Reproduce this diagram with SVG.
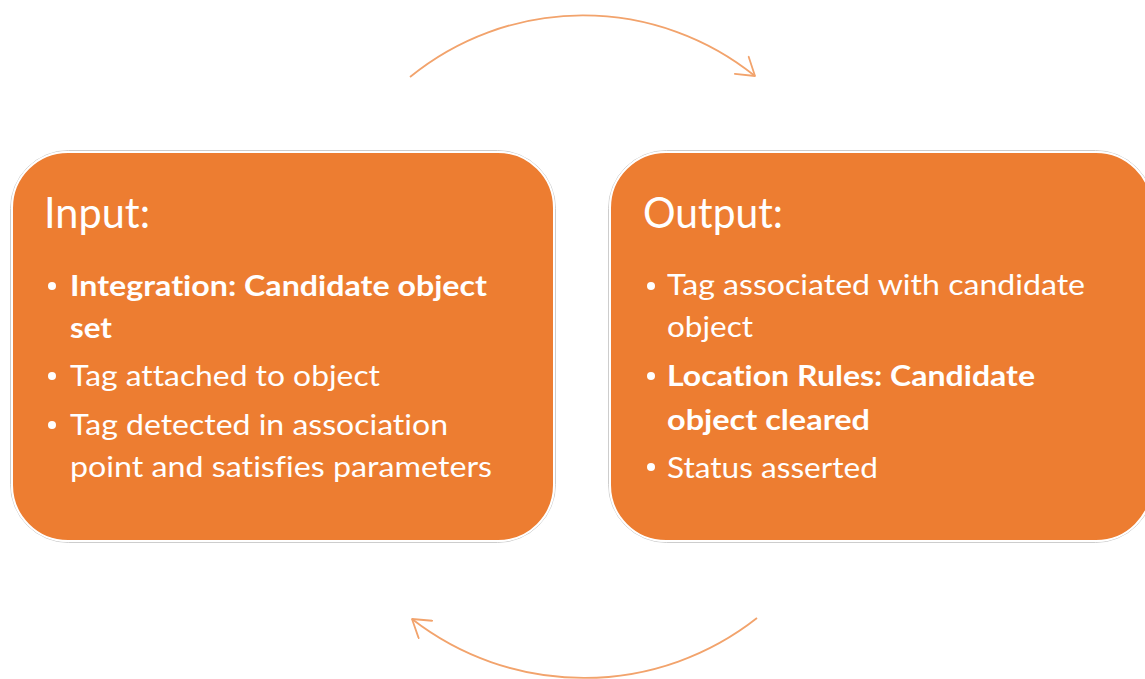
<svg xmlns="http://www.w3.org/2000/svg" width="1145" height="679" viewBox="0 0 1145 679">
  <defs>
    <marker id="chev" viewBox="0 0 24 24" refX="20" refY="12" markerWidth="24" markerHeight="24" markerUnits="userSpaceOnUse" orient="auto">
      <path d="M3,1 L20,12 L3,23" fill="none" stroke="#F2A36C" stroke-width="1.8" stroke-linecap="round" stroke-linejoin="round"/>
    </marker>
  </defs>
  <style>
    .halo { fill: none; stroke: #cdcdcd; stroke-width: 1; }
    .box { fill: #ED7D31; stroke: #ffffff; stroke-width: 2; }
    .title { font-family: Lato, "Open Sans", sans-serif; font-size: 43px; fill: #ffffff; font-variant-ligatures: none; }
    .item { font-family: Lato, "Open Sans", sans-serif; font-size: 29px; fill: #ffffff; font-variant-ligatures: none; }
    .bold { font-weight: bold; }
    .dot { fill: #ffffff; }
    .flow { fill: none; stroke: #F2A36C; stroke-width: 1.8; }
  </style>

  <rect width="1145" height="679" fill="#ffffff"/>

  <!-- cycle arcs -->
  <g id="connectors">
    <path class="flow" d="M410,77 A274,274 0 0 1 755,76" marker-end="url(#chev)"/>
    <path class="flow" d="M757,618 A280,280 0 0 1 412,619" marker-end="url(#chev)"/>
  </g>

  <!-- input card -->
  <g id="input">
    <rect class="halo" x="10.5" y="150.5" width="545" height="392" rx="58"/>
    <rect class="box" x="12" y="152" width="542" height="389" rx="56"/>
    <text class="title" x="44" y="228" textLength="106" lengthAdjust="spacingAndGlyphs">Input:</text>
    <circle class="dot" cx="52" cy="286" r="4"/>
    <text class="item bold" x="70" y="296" textLength="417" lengthAdjust="spacingAndGlyphs">Integration: Candidate object</text>
    <text class="item bold" x="70" y="338" textLength="42" lengthAdjust="spacingAndGlyphs">set</text>
    <circle class="dot" cx="52" cy="376" r="4"/>
    <text class="item" x="70" y="386" textLength="310" lengthAdjust="spacingAndGlyphs">Tag attached to object</text>
    <circle class="dot" cx="52" cy="425" r="4"/>
    <text class="item" x="70" y="435" textLength="378" lengthAdjust="spacingAndGlyphs">Tag detected in association</text>
    <text class="item" x="70" y="477" textLength="422" lengthAdjust="spacingAndGlyphs">point and satisfies parameters</text>
  </g>

  <!-- output card -->
  <g id="output">
    <rect class="halo" x="608.5" y="150.5" width="545" height="392" rx="58"/>
    <rect class="box" x="610" y="152" width="542" height="389" rx="56"/>
    <text class="title" x="643" y="228" textLength="140" lengthAdjust="spacingAndGlyphs">Output:</text>
    <circle class="dot" cx="651" cy="286" r="4"/>
    <text class="item" x="667" y="295" textLength="418" lengthAdjust="spacingAndGlyphs">Tag associated with candidate</text>
    <text class="item" x="667" y="337" textLength="86" lengthAdjust="spacingAndGlyphs">object</text>
    <circle class="dot" cx="651" cy="376" r="4"/>
    <text class="item bold" x="667" y="386" textLength="368" lengthAdjust="spacingAndGlyphs">Location Rules: Candidate</text>
    <text class="item bold" x="667" y="430" textLength="203" lengthAdjust="spacingAndGlyphs">object cleared</text>
    <circle class="dot" cx="651" cy="467" r="4"/>
    <text class="item" x="667" y="478" textLength="211" lengthAdjust="spacingAndGlyphs">Status asserted</text>
  </g>
</svg>
